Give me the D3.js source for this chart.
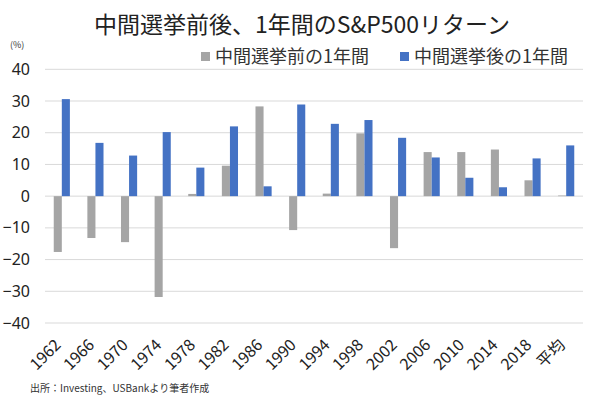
<!DOCTYPE html>
<html><head><meta charset="utf-8">
<script src="https://cdn.jsdelivr.net/npm/d3@7"></script>
<style>body{margin:0;background:#fff}svg{display:block}text{font-family:"Noto Sans CJK JP","Noto Sans",sans-serif}</style>
</head><body><svg id="c" width="600" height="403"></svg>
<script>
const categories = ["1962","1966","1970","1974","1978","1982","1986","1990","1994","1998","2002","2006","2010","2014","2018","平均"];
const beforeVals = [-17.6,-13.2,-14.5,-31.8,0.7,9.6,28.3,-10.7,0.8,19.8,-16.4,13.9,13.9,14.7,5.0,0.2];
const afterVals = [30.6,16.8,12.8,20.2,9.0,22.0,3.1,28.9,22.8,24.0,18.4,12.2,5.8,2.8,11.9,16.0];
const seriesNames = ["中間選挙前の1年間","中間選挙後の1年間"];
const yTicks = [40,30,20,10,0,-10,-20,-30,-40];
const title = "中間選挙前後、1年間のS&P500リターン";
const unitLabel = "(%)";
const sourceText = "出所：Investing、USBankより筆者作成";
const colors = ["#A5A5A5","#4472C4"];

const svg = d3.select("#c");
const L = 45, R = 583, T = 69.3, B = 323;
const x = d3.scaleBand().domain(categories).range([L,R]).paddingInner(0.52).paddingOuter(0.26);
const y = d3.scaleLinear().domain([-40,40]).range([B,T]);
const bw = x.bandwidth()/2;

svg.append("text").attr("x",302).attr("y",33).attr("text-anchor","middle")
  .attr("font-size",23).attr("fill","#222").text(title);

svg.append("g").selectAll("line").data(yTicks).join("line")
  .attr("x1",L).attr("x2",R).attr("y1",d=>y(d)).attr("y2",d=>y(d))
  .attr("stroke","#D9D9D9").attr("stroke-width",1);

const yAxis = d3.axisLeft(y).tickValues(yTicks).tickSize(0).tickPadding(0);
const ga = svg.append("g").attr("transform",`translate(${30},0)`).call(yAxis);
ga.select(".domain").remove();
ga.selectAll("text").attr("font-size",16).attr("fill","#222")
  .style("font-family","'Noto Sans','Noto Sans CJK JP',sans-serif");

svg.append("text").attr("x",10).attr("y",48).attr("font-size",9).attr("fill","#333").text(unitLabel);

const data = [beforeVals, afterVals];
data.forEach((vals,si)=>{
  svg.append("g").selectAll("rect").data(vals).join("rect")
    .attr("x",(d,i)=>x(categories[i]) + si*bw)
    .attr("width",bw)
    .attr("y",d=>Math.min(y(d),y(0)))
    .attr("height",d=>Math.abs(y(d)-y(0)))
    .attr("fill",colors[si]);
});

const xa = svg.append("g").attr("transform",`translate(0,${B+14})`)
  .call(d3.axisBottom(x).tickSize(0).tickPadding(0));
xa.select(".domain").remove();
xa.selectAll("text").attr("font-size",16).attr("fill","#222")
  .attr("text-anchor","end").attr("dy","0.35em")
  .attr("transform","translate(-4,5) rotate(-45)");

// legend
const leg = [{x:201,name:seriesNames[0],c:colors[0]},{x:400,name:seriesNames[1],c:colors[1]}];
leg.forEach(l=>{
  svg.append("rect").attr("x",l.x).attr("y",52).attr("width",9).attr("height",9).attr("fill",l.c);
  svg.append("text").attr("x",l.x+14).attr("y",63).attr("font-size",18).attr("fill","#333").text(l.name);
});

svg.append("text").attr("x",30).attr("y",392).attr("font-size",10).attr("fill","#333").text(sourceText);
</script></body></html>
